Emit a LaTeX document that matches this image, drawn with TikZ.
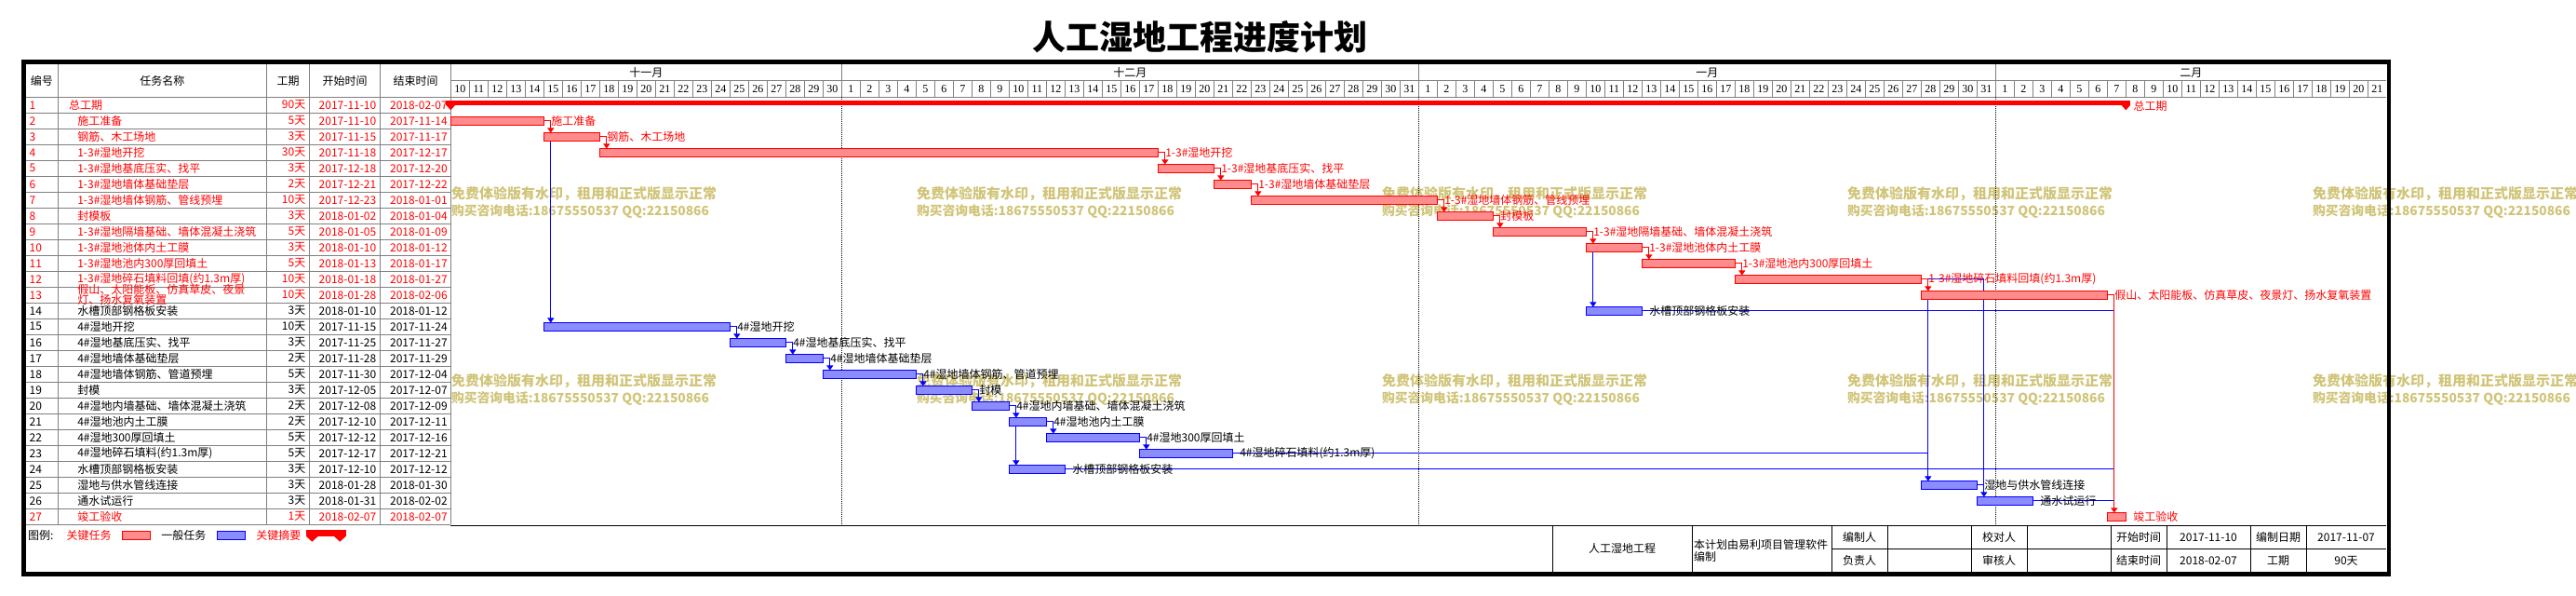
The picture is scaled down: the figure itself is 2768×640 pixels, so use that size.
\documentclass[tikz,border=0pt]{standalone}
\usepackage{fontspec}
\setmainfont{Noto Sans CJK SC}
\newfontfamily\dayfont{Liberation Serif}
\usepackage{xcolor}
\usepackage{tikz}
\usetikzlibrary{arrows.meta,positioning,backgrounds}

\definecolor{gridgray}{RGB}{128,128,128}
\definecolor{wmark}{RGB}{208,196,120}

% link from the end of one bar down to the top of the next one
\newcommand\tlink[3]{\draw[#1] (#2.east) -- ++(7.5,0) coordinate (k#2) -- (k#2 |- #3.north);}

\begin{document}
\begin{tikzpicture}[
    x=0.5pt, y=-0.5pt,
    every node/.style={font=\fontsize{6}{7}\selectfont, inner sep=0pt, outer sep=0pt},
    grid/.style={draw=gridgray, line width=0.5pt},
    bar/.style={rectangle, draw=#1, fill=#1!45!white, line width=0.5pt, minimum height=4.3pt, anchor=west},
    critlink/.style={draw=red, line width=0.5pt, -{Triangle[width=3.5pt,length=2.5pt]}},
    normlink/.style={draw=blue, line width=0.5pt, -{Triangle[width=3.5pt,length=2.5pt]}},
    normline/.style={draw=blue, line width=0.5pt},
    tname/.style={anchor=west, align=left, font=\fontsize{6}{5.6}\selectfont},
    wm/.style={anchor=west, align=left, text=wmark, font=\fontsize{7.5}{9}\selectfont\bfseries}
]
\useasboundingbox (0,0) rectangle (2768,640);

\node[font=\fontsize{18}{20}\selectfont\bfseries] (title) at (1289,40) {人工湿地工程进度计划};

% table grid
\foreach \y in {1,...,27} \draw[grid] (27.7,{104.3+17*\y}) -- (484.3,{104.3+17*\y});
\foreach \x in {62,286.7,332.3,408.7,484.3} \draw[grid] (\x,69) -- (\x,563.3);
\draw[grid] (27.7,104.3) -- (2564.3,104.3);
\draw[grid] (484.3,86.7) -- (2564.3,86.7);
\foreach \x in {904.3,1524.3,2144.3} {
  \draw[grid] (\x,69) -- (\x,86.7);
  \draw[line width=0.5pt, dash pattern=on 0.5pt off 0.5pt] (\x,104.3) -- (\x,563.3);
}

\node (h1) at (44.8,86.7) {编号};
\node (h2) at (174.3,86.7) {任务名称};
\node (h3) at (309.5,86.7) {工期};
\node (h4) at (370.5,86.7) {开始时间};
\node (h5) at (446.5,86.7) {结束时间};

\node (m1) at (694.3,77.8) {十一月};
\node (m2) at (1214.3,77.8) {十二月};
\node (m3) at (1834.3,77.8) {一月};
\node (m4) at (2354.3,77.8) {二月};

% days
\foreach \a/\b/\o/\m in {10/30/-10/1,1/31/20/2,1/31/51/3,1/21/82/4}
  \foreach \n in {\a,...,\b} {
    \draw[grid] ({484.3+20*(\n+\o)},86.7) -- ++(0,17.6);
    \node[font=\dayfont\fontsize{6}{7}\selectfont] (d\m-\n) at ({494.3+20*(\n+\o)},95.5) {\n};
  }

% task table
\foreach \i/\ix/\nm/\du/\st/\en/\c in {
  1/74/总工期/90天/2017-11-10/2018-02-07/red,
  2/83.3/施工准备/5天/2017-11-10/2017-11-14/red,
  3/83.3/钢筋、木工场地/3天/2017-11-15/2017-11-17/red,
  4/83.3/1-3\#湿地开挖/30天/2017-11-18/2017-12-17/red,
  5/83.3/1-3\#湿地基底压实、找平/3天/2017-12-18/2017-12-20/red,
  6/83.3/1-3\#湿地墙体基础垫层/2天/2017-12-21/2017-12-22/red,
  7/83.3/1-3\#湿地墙体钢筋、管线预埋/10天/2017-12-23/2018-01-01/red,
  8/83.3/封模板/3天/2018-01-02/2018-01-04/red,
  9/83.3/1-3\#湿地隔墙基础、墙体混凝土浇筑/5天/2018-01-05/2018-01-09/red,
  10/83.3/1-3\#湿地池体内土工膜/3天/2018-01-10/2018-01-12/red,
  11/83.3/1-3\#湿地池内300厚回填土/5天/2018-01-13/2018-01-17/red,
  12/83.3/1-3\#湿地碎石填料回填(约1.3m厚)/10天/2018-01-18/2018-01-27/red,
  13/83.3/{假山、太阳能板、仿真草皮、夜景\\灯、扬水复氧装置}/10天/2018-01-28/2018-02-06/red,
  14/83.3/水槽顶部钢格板安装/3天/2018-01-10/2018-01-12/black,
  15/83.3/4\#湿地开挖/10天/2017-11-15/2017-11-24/black,
  16/83.3/4\#湿地基底压实、找平/3天/2017-11-25/2017-11-27/black,
  17/83.3/4\#湿地墙体基础垫层/2天/2017-11-28/2017-11-29/black,
  18/83.3/4\#湿地墙体钢筋、管道预埋/5天/2017-11-30/2017-12-04/black,
  19/83.3/封模/3天/2017-12-05/2017-12-07/black,
  20/83.3/4\#湿地内墙基础、墙体混凝土浇筑/2天/2017-12-08/2017-12-09/black,
  21/83.3/4\#湿地池内土工膜/2天/2017-12-10/2017-12-11/black,
  22/83.3/4\#湿地300厚回填土/5天/2017-12-12/2017-12-16/black,
  23/83.3/4\#湿地碎石填料(约1.3m厚)/5天/2017-12-17/2017-12-21/black,
  24/83.3/水槽顶部钢格板安装/3天/2017-12-10/2017-12-12/black,
  25/83.3/湿地与供水管线连接/3天/2018-01-28/2018-01-30/black,
  26/83.3/通水试运行/3天/2018-01-31/2018-02-02/black,
  27/83.3/竣工验收/1天/2018-02-07/2018-02-07/red}{
  \node[anchor=west, text=\c] (id\i) at (31.7,{95.8+17*\i}) {\i};
  \node[tname, text=\c] (nm\i) at (\ix,{95.8+17*\i}) {\nm};
  \node[anchor=east, text=\c] (du\i) at (328.3,{95.8+17*\i}) {\du};
  \node[anchor=east, text=\c] (st\i) at (404.3,{95.8+17*\i}) {\st};
  \node[anchor=east, text=\c] (en\i) at (480.7,{95.8+17*\i}) {\en};
}

% summary bar
\node[rectangle, fill=red, minimum width=905pt, minimum height=2.5pt, anchor=west] (t1) at (479.3,110.2) {};
\fill[red] (t1.south west) -- ++(10,0) -- ++(-5,5.6) -- cycle;
\fill[red] (t1.south east) -- ++(-10,0) -- ++(5,5.6) -- cycle;
\node[anchor=west, text=red] (l1) at (2292.7,113.5) {总工期};

% task bars
\foreach \i/\s/\e/\c/\tc/\lb in {
  2/0/5/red/red/施工准备,
  3/5/8/red/red/钢筋、木工场地,
  4/8/38/red/red/1-3\#湿地开挖,
  5/38/41/red/red/1-3\#湿地基底压实、找平,
  6/41/43/red/red/1-3\#湿地墙体基础垫层,
  7/43/53/red/red/1-3\#湿地墙体钢筋、管线预埋,
  8/53/56/red/red/封模板,
  9/56/61/red/red/1-3\#湿地隔墙基础、墙体混凝土浇筑,
  10/61/64/red/red/1-3\#湿地池体内土工膜,
  11/64/69/red/red/1-3\#湿地池内300厚回填土,
  12/69/79/red/red/1-3\#湿地碎石填料回填(约1.3m厚),
  13/79/89/red/red/假山、太阳能板、仿真草皮、夜景灯、扬水复氧装置,
  14/61/64/blue/black/水槽顶部钢格板安装,
  15/5/15/blue/black/4\#湿地开挖,
  16/15/18/blue/black/4\#湿地基底压实、找平,
  17/18/20/blue/black/4\#湿地墙体基础垫层,
  18/20/25/blue/black/4\#湿地墙体钢筋、管道预埋,
  19/25/28/blue/black/封模,
  20/28/30/blue/black/4\#湿地内墙基础、墙体混凝土浇筑,
  21/30/32/blue/black/4\#湿地池内土工膜,
  22/32/37/blue/black/4\#湿地300厚回填土,
  23/37/42/blue/black/4\#湿地碎石填料(约1.3m厚),
  24/30/33/blue/black/水槽顶部钢格板安装,
  25/79/82/blue/black/湿地与供水管线连接,
  26/82/85/blue/black/通水试运行,
  27/89/90/red/red/竣工验收}{
  \node[bar=\c, minimum width={(\e-\s)*10pt}] (t\i) at ({484.3+20*\s},{95.8+17*\i}) {};
  \node[anchor=west, text=\tc] (l\i) at ([xshift=4pt]t\i.east) {\lb};
}

\begin{scope}[on background layer]
\foreach \x [count=\k] in {485,985,1485,1985,2485}
  \foreach \y [count=\j] in {217,418}
    \node[wm] (wm\k\j) at (\x,\y) {免费体验版有水印，租用和正式版显示正常\\{\fontsize{6.9}{9}\selectfont 购买咨询电话:18675550537 QQ:22150866}};

% blue links
\tlink{normlink}{t15}{t16}
\tlink{normlink}{t16}{t17}
\tlink{normlink}{t17}{t18}
\tlink{normlink}{t18}{t19}
\tlink{normlink}{t19}{t20}
\tlink{normlink}{t20}{t21}
\tlink{normlink}{t21}{t22}
\tlink{normlink}{t22}{t23}
\draw[normlink] (kt20 |- t21.north) -- (kt20 |- t24.north);

% red links
\tlink{critlink}{t2}{t3}
\draw[normlink] (kt2 |- t3.north) -- (kt2 |- t15.north);
\tlink{critlink}{t3}{t4}
\tlink{critlink}{t4}{t5}
\tlink{critlink}{t5}{t6}
\tlink{critlink}{t6}{t7}
\tlink{critlink}{t7}{t8}
\tlink{critlink}{t8}{t9}
\tlink{critlink}{t9}{t10}
\draw[normlink] (kt9 |- t10.north) -- (kt9 |- t14.north);
\tlink{critlink}{t10}{t11}
\tlink{critlink}{t11}{t12}
\tlink{critlink}{t12}{t13}
\draw[normlink] (kt12 |- t13.north) -- (kt12 |- t25.north);
\draw[normline] (t23.east) -- (kt12 |- t23.east);
\draw[normline] (t25.east) -- ++(7.5,0) coordinate (kt25);
\draw[normlink] (kt12) -- (kt12 -| kt25) -- (kt25 |- t26.north);
\draw[normline] (t14.east) -- ++(507.5,0) coordinate (kt14);
\draw[normline] (t24.east) -- (kt14 |- t24.east);
\draw[normline] (t26.east) -- (kt14 |- t26.east);
\tlink{critlink}{t13}{t27}
\end{scope}

% legend
\node[anchor=west] (lg0) at (30,575) {图例:};
\node[anchor=west, text=red] (lg1) at (71.7,575) {关键任务};
\node[bar=red, minimum width=15pt] (lg2) at (131,575) {};
\node[anchor=west] (lg3) at (173.3,575) {一般任务};
\node[bar=blue, minimum width=15pt] (lg4) at (233,575) {};
\node[anchor=west, text=red] (lg5) at (275.3,575) {关键摘要};
\node[rectangle, fill=red, minimum width=21.3pt, minimum height=3.3pt, anchor=west] (lg6) at (329,572.6) {};
\fill[red] (lg6.south west) -- ++(12.7,0) -- ++(-6.35,5.8) -- cycle;
\fill[red] (lg6.south east) -- ++(-12.7,0) -- ++(6.35,5.8) -- cycle;

% footer table
\draw[line width=0.5pt] (484.3,564.3) -- (2564.3,564.3);
\foreach \x in {1668,1818,1968,2028,2118,2178,2268,2328,2418,2478} \draw[line width=0.5pt] (\x,564.3) -- (\x,614);
\draw[line width=0.5pt] (1968,590) -- (2564.3,590);
\node (f1) at (1743,589) {人工湿地工程};
\node[anchor=west, align=left, font=\fontsize{6}{6.35}\selectfont] (f2) at (1820,591.3) {本计划由易利项目管理软件\\编制};
\node (f3) at (1998,577) {编制人};
\node (f4) at (1998,602) {负责人};
\node (f5) at (2148,577) {校对人};
\node (f6) at (2148,602) {审核人};
\node (f7) at (2298,577) {开始时间};
\node (f8) at (2298,602) {结束时间};
\node (f9) at (2373,577) {2017-11-10};
\node (f10) at (2373,602) {2018-02-07};
\node (f11) at (2448,577) {编制日期};
\node (f12) at (2448,602) {工期};
\node (f13) at (2521,577) {2017-11-07};
\node (f14) at (2521,602) {90天};

% frame
\draw[line width=2.3pt] (25.5,66.6) rectangle (2567,616.3);
\end{tikzpicture}
\end{document}
